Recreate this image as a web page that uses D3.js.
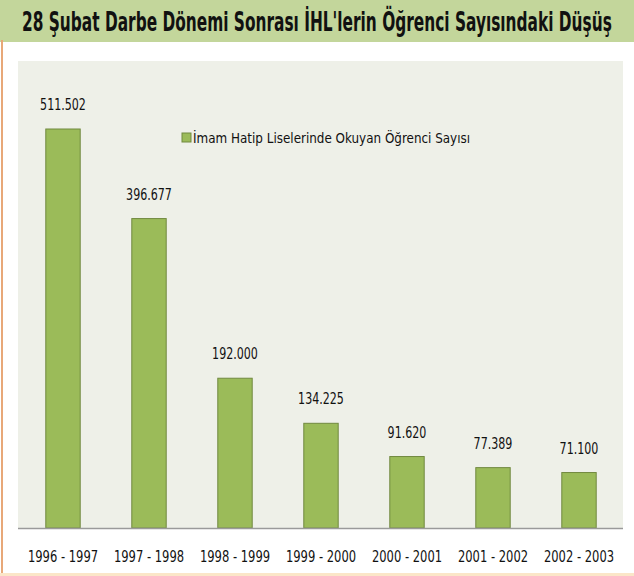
<!DOCTYPE html>
<html>
<head>
<meta charset="utf-8">
<script src="https://cdn.jsdelivr.net/npm/d3@7"></script>
<style>
  body { margin: 0; background: #fff; }
  text { font-family: "DejaVu Sans Condensed", "Open Sans", sans-serif; }
</style>
</head>
<body>
<div id="chart"></div>
<script>
var w = 634;
var h = 576;

// data
var years = ["1996 - 1997", "1997 - 1998", "1998 - 1999", "1999 - 2000", "2000 - 2001", "2001 - 2002", "2002 - 2003"];
var students = [511502, 396677, 192000, 134225, 91620, 77389, 71100];
var labels = ["511.502", "396.677", "192.000", "134.225", "91.620", "77.389", "71.100"];
var seriesName = "İmam Hatip  Liselerinde  Okuyan Öğrenci Sayısı";
var title = "28 Şubat Darbe Dönemi Sonrası İHL'lerin Öğrenci Sayısındaki Düşüş";

// squeeze text to a target width, like a narrow font
function squeeze(sel, k) {
    sel.each(function () {
        var len = this.getComputedTextLength();
        d3.select(this).attr("textLength", len * k).attr("lengthAdjust", "spacingAndGlyphs");
    });
}

var svg = d3.select("#chart")
    .append("svg")
    .attr("width", w)
    .attr("height", h);

// title band
svg.append("rect").attr("x", 0).attr("y", 0).attr("width", w).attr("height", 42).attr("fill", "#c3d69b");
var t = svg.append("text")
    .attr("x", 0)
    .attr("y", 0)
    .attr("font-size", 26)
    .attr("font-weight", "bold")
    .attr("fill", "#111")
    .text(title);
var tl = t.node().getComputedTextLength();
t.attr("transform", "translate(22,31) scale(" + (590 / tl) + ",1)");

// borders
svg.append("rect").attr("x", 1).attr("y", 40).attr("width", 2).attr("height", h - 40).attr("fill", "#e8a878");
svg.append("rect").attr("x", 0).attr("y", 573).attr("width", w).attr("height", 3).attr("fill", "#fbe6c8");

// plot area
svg.append("rect").attr("x", 18).attr("y", 61).attr("width", 605).attr("height", 467).attr("fill", "#eef0e8");

var scaleX = d3.scaleBand()
    .domain(years)
    .range([20, 622])
    .paddingInner(0.6)
    .paddingOuter(0.3);

var scaleY = d3.scaleLinear()
    .domain([0, 511502])
    .range([528, 129]);

svg.selectAll("rect.bar")
    .data(students)
    .enter()
    .append("rect")
    .attr("class", "bar")
    .attr("x", function (d, i) { return scaleX(years[i]); })
    .attr("y", function (d) { return scaleY(d); })
    .attr("width", scaleX.bandwidth())
    .attr("height", function (d) { return scaleY(0) - scaleY(d); })
    .attr("fill", "#9bbb59")
    .attr("stroke", "#71893f")
    .attr("stroke-width", 1);

var vals = svg.selectAll("text.val")
    .data(students)
    .enter()
    .append("text")
    .attr("class", "val")
    .attr("x", function (d, i) { return scaleX(years[i]) + scaleX.bandwidth() / 2; })
    .attr("y", function (d) { return scaleY(d) - 19; })
    .attr("text-anchor", "middle")
    .attr("font-size", 16)
    .attr("fill", "#111")
    .text(function (d, i) { return labels[i]; });
squeeze(vals, 0.77);

// baseline axis
svg.append("line")
    .attr("x1", 18).attr("x2", 623)
    .attr("y1", scaleY(0) + 0.5).attr("y2", scaleY(0) + 0.5)
    .attr("stroke", "#9a9a9a").attr("stroke-width", 1.5);

var xAxis = d3.axisBottom(scaleX).tickSize(0).tickPadding(0);
var gx = svg.append("g")
    .attr("transform", "translate(0," + 562 + ")")
    .call(xAxis);
gx.select(".domain").remove();
gx.selectAll("text")
    .attr("font-size", 16)
    .attr("font-family", null)
    .attr("fill", "#111")
    .attr("dy", 0);
squeeze(gx.selectAll("text"), 0.8);

// legend
svg.append("rect").attr("x", 182).attr("y", 133).attr("width", 9).attr("height", 9)
    .attr("fill", "#9bbb59").attr("stroke", "#71893f");
var leg = svg.append("text")
    .attr("x", 193)
    .attr("y", 143)
    .attr("font-size", 14)
    .attr("fill", "#111")
    .text(seriesName);
squeeze(leg, 0.95);
</script>
</body>
</html>
